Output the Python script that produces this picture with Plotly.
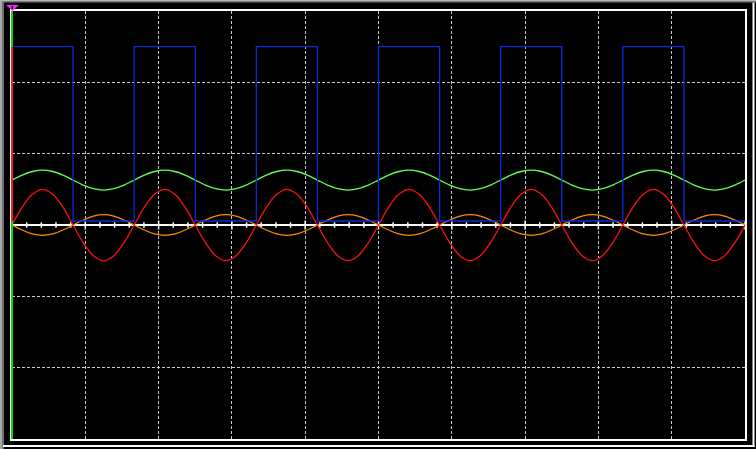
import plotly.graph_objects as go

# sample index (12 samples per signal period, 7.2 samples per division)
t = list(range(73))

red_vals = [
    0, 0.25, 0.43, 0.5, 0.43, 0.25, 0, -0.25, -0.43, -0.5, -0.43, -0.25,
    0, 0.25, 0.43, 0.5, 0.43, 0.25, 0, -0.25, -0.43, -0.5, -0.43, -0.25,
    0, 0.25, 0.43, 0.5, 0.43, 0.25, 0, -0.25, -0.43, -0.5, -0.43, -0.25,
    0, 0.25, 0.43, 0.5, 0.43, 0.25, 0, -0.25, -0.43, -0.5, -0.43, -0.25,
    0, 0.25, 0.43, 0.5, 0.43, 0.25, 0, -0.25, -0.43, -0.5, -0.43, -0.25,
    0, 0.25, 0.43, 0.5, 0.43, 0.25, 0, -0.25, -0.43, -0.5, -0.43, -0.25,
    0,
]
green_vals = [
    0.63, 0.70, 0.75, 0.77, 0.75, 0.70, 0.63, 0.56, 0.51, 0.49, 0.51, 0.56,
    0.63, 0.70, 0.75, 0.77, 0.75, 0.70, 0.63, 0.56, 0.51, 0.49, 0.51, 0.56,
    0.63, 0.70, 0.75, 0.77, 0.75, 0.70, 0.63, 0.56, 0.51, 0.49, 0.51, 0.56,
    0.63, 0.70, 0.75, 0.77, 0.75, 0.70, 0.63, 0.56, 0.51, 0.49, 0.51, 0.56,
    0.63, 0.70, 0.75, 0.77, 0.75, 0.70, 0.63, 0.56, 0.51, 0.49, 0.51, 0.56,
    0.63, 0.70, 0.75, 0.77, 0.75, 0.70, 0.63, 0.56, 0.51, 0.49, 0.51, 0.56,
    0.63,
]
orange_vals = [
    0, -0.07, -0.125, -0.145, -0.125, -0.07, 0, 0.07, 0.125, 0.145, 0.125, 0.07,
    0, -0.07, -0.125, -0.145, -0.125, -0.07, 0, 0.07, 0.125, 0.145, 0.125, 0.07,
    0, -0.07, -0.125, -0.145, -0.125, -0.07, 0, 0.07, 0.125, 0.145, 0.125, 0.07,
    0, -0.07, -0.125, -0.145, -0.125, -0.07, 0, 0.07, 0.125, 0.145, 0.125, 0.07,
    0, -0.07, -0.125, -0.145, -0.125, -0.07, 0, 0.07, 0.125, 0.145, 0.125, 0.07,
    0, -0.07, -0.125, -0.145, -0.125, -0.07, 0, 0.07, 0.125, 0.145, 0.125, 0.07,
    0,
]
square_t = [0, 6, 12, 18, 24, 30, 36, 42, 48, 54, 60, 66, 72]
square_vals = [2.5, 0.056, 2.5, 0.056, 2.5, 0.056, 2.5, 0.056, 2.5, 0.056, 2.5, 0.056, 0.056]

W, H = 756, 449
L, R, T, B = 12, 745, 11, 439


def pxx(x):
    return (x - L) / (R - L)


def pxy(y):
    return (B - y) / (B - T)


fig = go.Figure()
fig.add_trace(go.Scatter(x=t, y=orange_vals, mode="lines", line=dict(color="#ff8a00", width=1.3, shape="spline"), hoverinfo="skip"))
fig.add_trace(go.Scatter(x=t, y=green_vals, mode="lines", line=dict(color="#66ff55", width=1.3, shape="spline"), hoverinfo="skip"))
fig.add_trace(go.Scatter(x=t, y=red_vals, mode="lines", line=dict(color="#ff1010", width=1.3, shape="spline"), hoverinfo="skip"))
fig.add_trace(go.Scatter(x=square_t, y=square_vals, mode="lines", line=dict(color="#0a2ed2", width=1.3, shape="hv"), hoverinfo="skip"))

shapes = []
# tick marks on the zero line
for i in range(51):
    tx = i * 1.44
    h = 0.063 if i % 5 == 0 else 0.038
    shapes.append(dict(type="line", xref="x", yref="y", x0=tx, x1=tx, y0=-h, y1=h,
                       line=dict(color="white", width=1.5), layer="between"))

# outer window frame
def prect(x0, x1, y0, y1, color):
    shapes.append(dict(type="rect", xref="paper", yref="paper",
                       x0=pxx(x0), x1=pxx(x1), y0=pxy(y1), y1=pxy(y0),
                       fillcolor=color, line=dict(width=0), layer="above"))

prect(0, 2, 0, 449, "#a8a8a8")
prect(2, 4, 0, 449, "#707070")
prect(0, 756, 0, 1, "#b4b4b4")
prect(2, 756, 1, 2.5, "#7a7a7a")
prect(752.5, 754.5, 2.5, 447, "#ffffff")
prect(3, 754.5, 445, 447, "#ffffff")

# coloured left edge segments
shapes.append(dict(type="line", xref="paper", yref="y", x0=0, x1=0, y0=3, y1=2.5,
                   line=dict(color="#00e000", width=2), layer="above"))
shapes.append(dict(type="line", xref="paper", yref="y", x0=0, x1=0, y0=2.5, y1=0.056,
                   line=dict(color="#ff1a1a", width=2), layer="above"))
shapes.append(dict(type="line", xref="paper", yref="y", x0=0, x1=0, y0=0.056, y1=-3,
                   line=dict(color="#00e000", width=2), layer="above"))

# magenta trigger marker
shapes.append(dict(type="path", xref="paper", yref="paper",
                   path=f"M {pxx(6)} {pxy(5)} L {pxx(19)} {pxy(5)} L {pxx(12.5)} {pxy(11)} Z",
                   fillcolor="#ff20ff", line=dict(width=0), layer="above"))
shapes.append(dict(type="line", xref="paper", yref="paper", x0=pxx(12.3), x1=pxx(12.3),
                   y0=pxy(6), y1=pxy(9), line=dict(color="black", width=1.5), layer="above"))

fig.update_layout(
    width=W, height=H,
    margin=dict(l=L, r=W - R, t=T, b=H - B, pad=0),
    paper_bgcolor="black", plot_bgcolor="black",
    showlegend=False,
    shapes=shapes,
    xaxis=dict(range=[0, 72], tick0=0, dtick=7.2, showgrid=True, gridcolor="#c8c8c8",
               griddash="3px,2px", gridwidth=1, zeroline=False, showticklabels=False,
               ticks="", showline=True, mirror=True, linecolor="white", linewidth=2,
               fixedrange=True),
    yaxis=dict(range=[-3, 3], tick0=0, dtick=1, showgrid=True, gridcolor="#c8c8c8",
               griddash="3px,2px", gridwidth=1, zeroline=True, zerolinecolor="white",
               zerolinewidth=2, showticklabels=False, ticks="", showline=True, mirror=True,
               linecolor="white", linewidth=2, fixedrange=True),
)

fig.write_html(
    "out.html",
    config={"displayModeBar": False},
    post_script="document.body.style.margin='0px';document.body.style.overflow='hidden';document.body.style.background='black';",
)
